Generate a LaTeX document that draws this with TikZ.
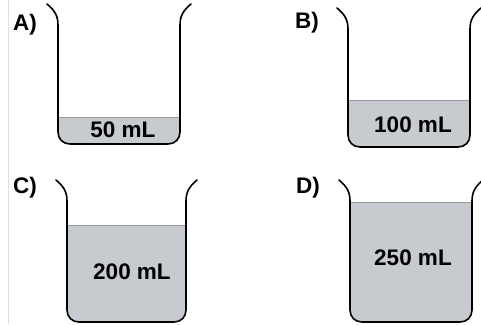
\documentclass[tikz,border=0pt]{standalone}
\usepackage{fontspec}
\setmainfont{Liberation Sans}
\usetikzlibrary{positioning}

\definecolor{liquid}{RGB}{199,202,206}

\tikzset{
  glass/.style={line width=1.6pt, line join=round, line cap=round},
  level/.style={line width=0.7pt, gray!80},
  vol/.style={font=\fontsize{22.5}{22.5}\selectfont\bfseries},
  tag/.style={font=\fontsize{22.5}{22.5}\selectfont\bfseries}
}

\begin{document}
\begin{tikzpicture}[x=1pt, y=-1pt]
\useasboundingbox (0,0) rectangle (481,324);

% thin rule at the left margin
\draw[gray!25, line width=0.8pt] (8,0) -- (8,324);

% beakers: label / walls / rim / bottom / liquid level / volume / text and label positions
\foreach \lab/\xl/\xr/\yt/\yb/\yl/\vol/\tx/\ty/\lx/\ly in {
    A/58/180/4/144/117/50/123/130/25/25,
    B/348/470/8/147/100/100/413/125/307/23,
    C/67/186/180/322/225/200/132/272/25/188,
    D/350/472/180/322/202/250/413/258/308/188} {

  % liquid
  \begin{scope}
    \clip (\xl-5,\yl) rectangle (\xr+5,\yb+5);
    \fill[liquid, rounded corners=12pt] (\xl,\yl-30) rectangle (\xr,\yb);
  \end{scope}
  \draw[level] (\xl,\yl) -- (\xr,\yl);

  % glass outline with rims, rounded bottom corners
  \draw[glass] (\xl-11,\yt)
    .. controls (\xl-4,\yt+6) and (\xl,\yt+11) .. (\xl,\yt+21)
    -- (\xl,\yb-12) .. controls (\xl,\yb-5) and (\xl+5,\yb) .. (\xl+12,\yb)
    -- (\xr-12,\yb) .. controls (\xr-5,\yb) and (\xr,\yb-5) .. (\xr,\yb-12)
    -- (\xr,\yt+21)
    .. controls (\xr,\yt+11) and (\xr+4,\yt+6) .. (\xr+11,\yt);

  \node[vol] (vol-\lab) at (\tx,\ty) {\vol~mL};
  \node[tag] (tag-\lab) at (\lx,\ly) {\lab)};
}

\end{tikzpicture}
\end{document}
